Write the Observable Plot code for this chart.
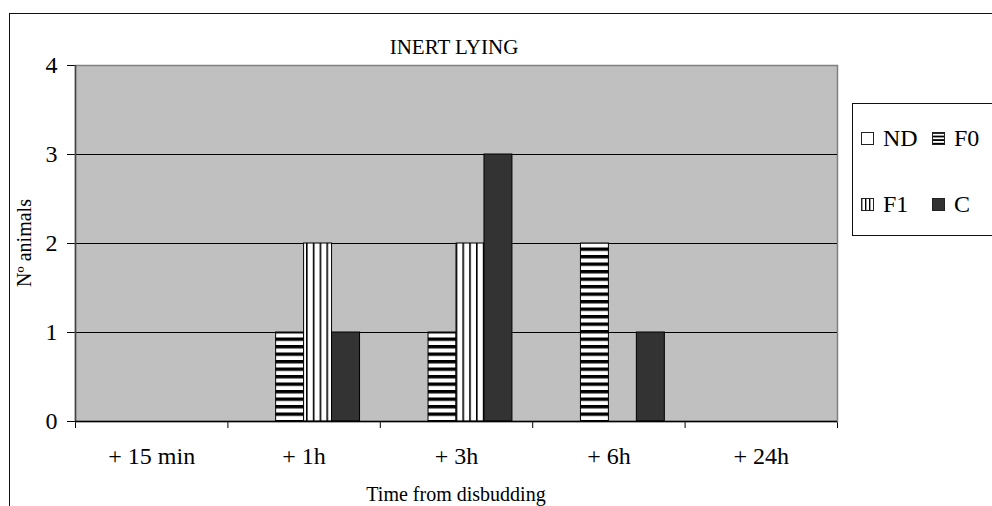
<!DOCTYPE html>
<html>
<head>
<meta charset="utf-8">
<script src="https://cdn.jsdelivr.net/npm/d3@7"></script>
<script src="https://cdn.jsdelivr.net/npm/@observablehq/plot@0.6"></script>
<style>
  html, body { margin: 0; padding: 0; background: #fff; }
  #wrap { position: relative; width: 992px; height: 506px; overflow: hidden; font-family: "Liberation Serif", "Times New Roman", serif; color: #000; }
  #outer { position: absolute; left: 9px; top: 13px; width: 1200px; height: 800px; border-left: 1.5px solid #111; border-top: 1.5px solid #111; }
  #chart { position: absolute; left: 0; top: 0; }
  .lbl { position: absolute; font-size: 20px; white-space: nowrap; line-height: 1; }
  #title { left: 454px; top: 47px; transform: translate(-50%, -50%); font-size: 21px; }
  #xtitle { left: 456px; top: 494px; transform: translate(-50%, -50%); }
  #ytitle { left: 24px; top: 243px; transform: translate(-50%, -50%) rotate(-90deg); }
  #legend { position: absolute; left: 852px; top: 103px; width: 150px; height: 131px; border: 1px solid #111; background: #fff; }
  .item { position: absolute; font-size: 24px; line-height: 1; display: flex; align-items: center; }
  .item svg { margin-right: 9px; }
</style>
</head>
<body>
<svg width="0" height="0" style="position:absolute">
  <defs>
    <pattern id="hstripe" patternUnits="userSpaceOnUse" width="10" height="7.5">
      <rect width="10" height="7.5" fill="#fff"/>
      <rect y="0" width="10" height="3.4" fill="#000"/>
    </pattern>
    <pattern id="vstripe" patternUnits="userSpaceOnUse" width="6.8" height="10">
      <rect width="6.8" height="10" fill="#fff"/>
      <rect x="0" width="1.6" height="10" fill="#000"/>
    </pattern>
    <pattern id="hstripeS" patternUnits="userSpaceOnUse" width="10" height="3.6">
      <rect width="10" height="3.6" fill="#fff"/>
      <rect width="10" height="1.8" fill="#000"/>
    </pattern>
    <pattern id="vstripeS" patternUnits="userSpaceOnUse" width="4" height="10">
      <rect width="4" height="10" fill="#fff"/>
      <rect width="1.4" height="10" fill="#000"/>
    </pattern>
  </defs>
</svg>
<div id="wrap">
  <div id="outer"></div>
  <div id="chart"></div>
  <div class="lbl" id="title">INERT LYING</div>
  <div class="lbl" id="xtitle">Time from disbudding</div>
  <div class="lbl" id="ytitle">Nº animals</div>
  <div id="legend"></div>
</div>
<script>
// ---- data ----
const categories = ["+ 15 min", "+ 1h", "+ 3h", "+ 6h", "+ 24h"];
const seriesNames = ["ND", "F0", "F1", "C"];
const ndValues = [0, 0, 0, 0, 0];
const f0Values = [0, 1, 1, 2, 0];
const f1Values = [0, 2, 2, 0, 0];
const cValues  = [0, 1, 3, 1, 0];
const yTicks = [0, 1, 2, 3, 4];

// ---- styling ----
const fills = ["#ffffff", "url(#hstripe)", "url(#vstripe)", "#333333"];
const legendFills = ["#ffffff", "url(#hstripeS)", "url(#vstripeS)", "#333333"];
const barFrac = 0.1835;
const groupPad = (1 - seriesNames.length * barFrac) / 2;

const valueSets = [ndValues, f0Values, f1Values, cValues];
const rows = [];
seriesNames.forEach((s, si) => {
  valueSets[si].forEach((v, ci) => {
    if (v > 0) rows.push({series: s, si, ci, category: categories[ci], value: v});
  });
});

const chart = Plot.plot({
  width: 992,
  height: 506,
  marginLeft: 75,
  marginRight: 155,
  marginTop: 65,
  marginBottom: 85,
  style: {fontFamily: "Liberation Serif, Times New Roman, serif", fontSize: "24px", background: "transparent", color: "#000", overflow: "visible"},
  x: {domain: [0, categories.length], ticks: d3.range(categories.length + 1), tickFormat: () => "", tickSize: 7, label: null},
  y: {domain: [0, 4], ticks: yTicks, tickFormat: d => String(d), tickSize: 8, tickPadding: 10, label: null},
  color: {type: "ordinal", domain: seriesNames, range: fills},
  marks: [
    Plot.frame({fill: "#c0c0c0", stroke: "#808080", strokeWidth: 1.5}),
    Plot.ruleY(yTicks.filter(t => t > 0 && t < 4), {stroke: "#000", strokeWidth: 1}),
    Plot.rect(rows, {
      x1: d => d.ci + groupPad + d.si * barFrac,
      x2: d => d.ci + groupPad + (d.si + 1) * barFrac,
      y1: 0,
      y2: "value",
      fill: "series",
      stroke: "#000",
      strokeWidth: 1
    }),
    Plot.ruleX([0], {stroke: "#444", strokeWidth: 1.5}),
    Plot.ruleY([0], {stroke: "#000", strokeWidth: 1.5}),
    Plot.text(categories, {x: (d, i) => i + 0.5, y: 0, dy: 35, text: d => d, fontSize: 24, fill: "#000"})
  ]
});
document.getElementById("chart").appendChild(chart);

// ---- legend ----
const legend = document.getElementById("legend");
const pos = [[8, 34], [79, 34], [8, 100], [79, 100]];
seriesNames.forEach((s, i) => {
  const it = document.createElement("div");
  it.className = "item";
  it.style.left = pos[i][0] + "px";
  it.style.top = (pos[i][1] - 12) + "px";
  it.innerHTML = `<svg width="13" height="13"><rect x="0.5" y="0.5" width="12" height="12" fill="${legendFills[i]}" stroke="#222" stroke-width="1"/></svg><span>${s}</span>`;
  legend.appendChild(it);
});
</script>
</body>
</html>
